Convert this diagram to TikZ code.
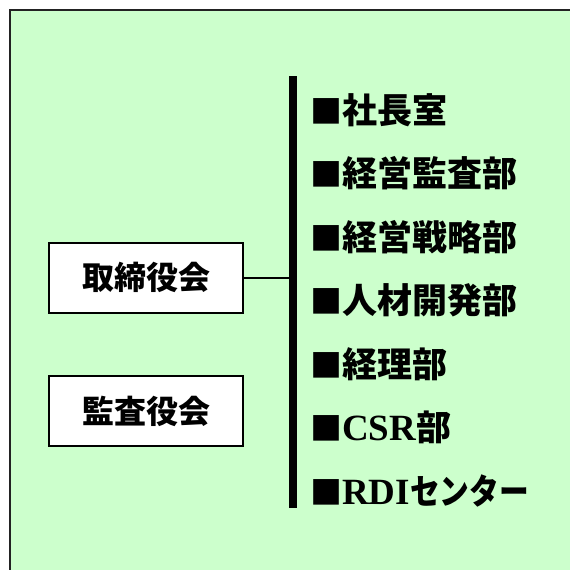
\documentclass[tikz,border=0pt]{standalone}
\usepackage{fontspec}
\setmainfont{Liberation Serif}
\newfontfamily\jp{Noto Sans CJK JP}
\definecolor{bgreen}{HTML}{CCFFCC}
\definecolor{edge}{HTML}{222222}
\tikzset{
  board/.style={draw=black, line width=2pt, fill=white, minimum width=194pt, minimum height=70.5pt, inner sep=0pt,
    font=\fontsize{32}{32}\selectfont\jp\bfseries},
  item/.style={anchor=west, inner sep=0pt, font=\fontsize{37}{37}\selectfont\bfseries}
}
\tikzset{link/.style={draw=black, line width=1.6pt}}
\newcommand{\sq}{{\fontsize{32}{32}\selectfont\jp\bfseries ■}}
\newcommand{\jt}[1]{{\fontsize{35}{35}\selectfont\jp\bfseries #1}}
\begin{document}
\begin{tikzpicture}[x=1pt,y=1pt]
\useasboundingbox (0,0) rectangle (570,-570);
\fill[white] (0,0) rectangle (570,-570);
\begin{scope}
\clip (0,0) rectangle (570,-570);
\draw[edge, line width=2pt, fill=bgreen] (9.5,-9.5) rectangle (580,-580);
\end{scope}
\node[board] (tori) at (146,-277.75) {取締役会};
\node[board] (kansa) at (146,-411) {監査役会};
\coordinate (bartop) at (292.75,-76);
\coordinate (barbot) at (292.75,-508);
\draw[black, line width=8.5pt] (bartop) -- (barbot);
\coordinate (barjoin) at (289,-277.75);
\draw[link] (tori.east) -- (barjoin);
\node[item] (i1) at (310,-110) {\sq\jt{社長室}};
\node[item] (i2) at (310,-173.5) {\sq\jt{経営監査部}};
\node[item] (i3) at (310,-237) {\sq\jt{経営戦略部}};
\node[item] (i4) at (310,-300.5) {\sq\jt{人材開発部}};
\node[item] (i5) at (310,-364) {\sq\jt{経理部}};
\node[item] (i6) at (310,-427.5) {\sq CSR\jt{部}};
\node[item] (i7) at (310,-491) {\sq RDI\scalebox{0.85}[1]{\jt{センター}}};
\end{tikzpicture}
\end{document}
